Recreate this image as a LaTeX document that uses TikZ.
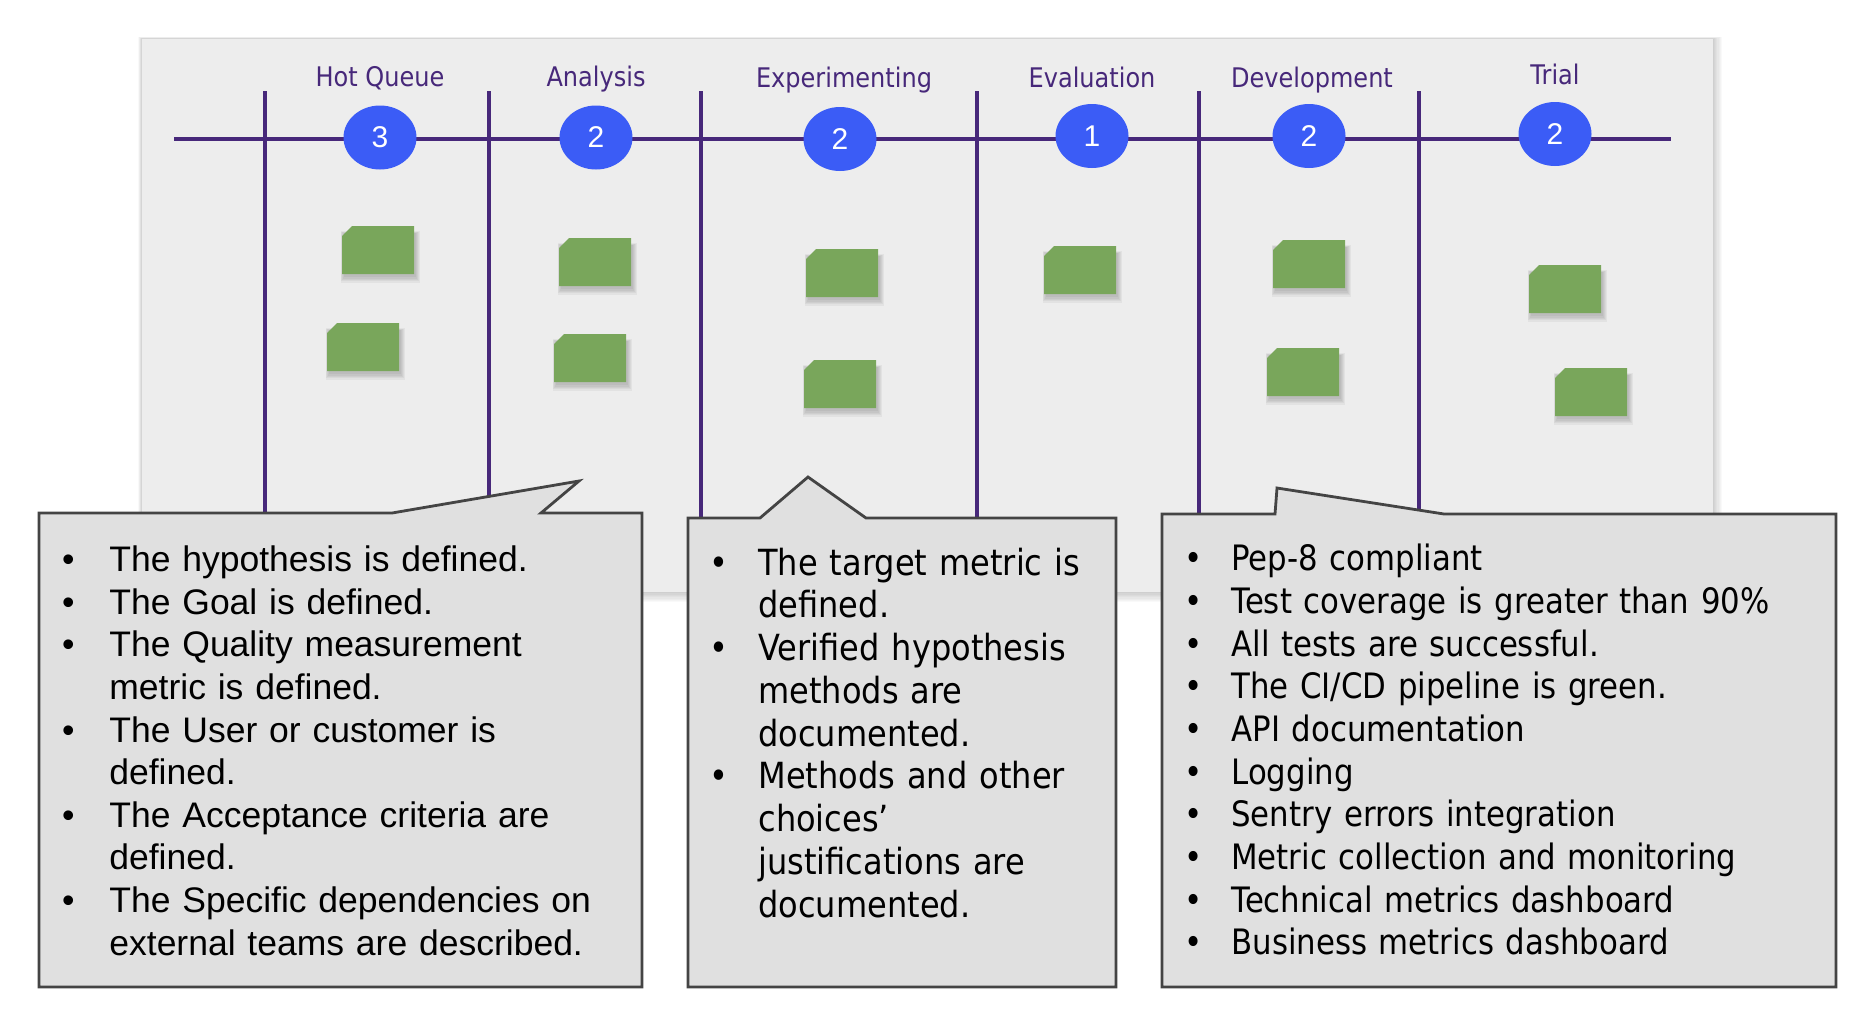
\documentclass[tikz,border=0pt]{standalone}
\usepackage{fontspec}
\setmainfont{Liberation Sans}
\newfontfamily\armfont{Liberation Sans}
\newfontfamily\tahfont[FakeStretch=0.89]{DejaVu Sans}
\newfontfamily\tahnarrow[FakeStretch=0.88]{DejaVu Sans}
\usetikzlibrary{shapes.geometric}

\definecolor{boardbg}{RGB}{237,237,237}
\definecolor{lanecol}{RGB}{71,40,122}
\definecolor{badgecol}{RGB}{59,92,246}
\definecolor{stickycol}{RGB}{121,166,91}
\definecolor{calloutbg}{RGB}{224,224,224}
\definecolor{calloutrule}{RGB}{68,68,68}

% bullet item: bullet centred #1 to the left of the text start
\newcommand\bulitem[2]{\par\noindent\llap{\makebox[0pt][c]{•}\hspace{#1}}#2}

% sticky note with a soft shadow, top-left corner at (#1,#2)
\newcommand\stickynote[2]{%
  \foreach \k in {1,...,5}{
    \fill[black,opacity=0.045]
      ({#1+3-(6-\k)*0.9},{#2+8-(6-\k)*0.6}) rectangle ({#1+73+(6-\k)*1.0},{#2+50+(6-\k)*1.3});
  }
  \fill[stickycol] ({#1+10},#2) -- ({#1+72},#2) -- ({#1+72},{#2+48}) -- (#1,{#2+48}) -- (#1,{#2+10}) -- cycle;
}

\begin{document}
\begin{tikzpicture}[x=0.5pt,y=-0.5pt,
  lane/.style={draw=lanecol,line width=2.3pt},
  badge/.style={shape=ellipse,fill=badgecol,text=white,inner sep=0pt,
    minimum width=36.5pt,minimum height=32pt,
    font=\fontsize{15}{17}\selectfont\armfont},
  heading/.style={text=lanecol,anchor=base,inner sep=0pt,
    font=\fontsize{13.5}{16}\selectfont\tahfont},
  callout/.style={fill=calloutbg,draw=calloutrule,line width=1.4pt,line join=miter},
  listA/.style={anchor=base west,inner sep=0pt,text width=290pt,align=left,
    font=\fontsize{17.75}{21.3}\selectfont\armfont},
  listB/.style={anchor=base west,inner sep=0pt,text width=190pt,align=left,
    font=\fontsize{18}{21.375}\selectfont\tahfont},
  listC/.style={anchor=base west,inner sep=0pt,text width=300pt,align=left,
    font=\fontsize{17.5}{21.33}\selectfont\tahnarrow}]

\useasboundingbox (0,0) rectangle (1856,1008);
\fill[white] (0,0) rectangle (1856,1008);

% board with soft shadow
\foreach \i in {1,...,8}{
  \fill[black,opacity=0.022] ({142-\i*0.5},{39-\i*0.3}) rectangle ({1713+\i*1.1},{592+\i*1.3});
}
\fill[boardbg] (142,39) rectangle (1713,592);

% swimlane rules
\coordinate (hl) at (174,139);
\coordinate (hr) at (1671,139);
\draw[lane] (hl) -- (hr);
\foreach \x [count=\n] in {265,489,701,977,1199,1419}{
  \coordinate (vt\n) at (\x,91);
  \coordinate (vb\n) at (\x,590);
  \draw[lane] (vt\n) -- (vb\n);
}

% column headings
\node[heading] (h1) at (380,86.7) {Hot Queue};
\node[heading] (h2) at (596,86.7) {Analysis};
\node[heading] (h3) at (844,87.7) {Experimenting};
\node[heading] (h4) at (1092,87.7) {Evaluation};
\node[heading] (h5) at (1312,87.7) {Development};
\node[heading] (h6) at (1555,84.3) {Trial};

% work-in-progress counters
\node[badge] (b1) at (380,137.5) {3};
\node[badge] (b2) at (596,137.5) {2};
\node[badge] (b3) at (840,139) {2};
\node[badge] (b4) at (1092,136) {1};
\node[badge] (b5) at (1309,136) {2};
\node[badge] (b6) at (1555,134) {2};

% cards
\stickynote{342}{226}
\stickynote{327}{323}
\stickynote{559}{238}
\stickynote{554}{334}
\stickynote{806}{249}
\stickynote{804}{360}
\stickynote{1044}{246}
\stickynote{1273}{240}
\stickynote{1267}{348}
\stickynote{1529}{265}
\stickynote{1555}{368}

% definition-of-done callouts
\draw[callout] (39,513) -- (392,513) -- (579,481) -- (541,513) -- (642,513)
  -- (642,987) -- (39,987) -- cycle;
\draw[callout] (688,518) -- (760,518) -- (808,477) -- (866,518) -- (1116,518)
  -- (1116,987) -- (688,987) -- cycle;
\draw[callout] (1162,514) -- (1275,514) -- (1277,488) -- (1444,514) -- (1836,514)
  -- (1836,987) -- (1162,987) -- cycle;

\node[listA] (t1) at (109,529.1) {%
  \bulitem{20.5pt}{The hypothesis is defined.}
  \bulitem{20.5pt}{The Goal is defined.}
  \bulitem{20.5pt}{The Quality measurement\\metric is defined.}
  \bulitem{20.5pt}{The User or customer is\\defined.}
  \bulitem{20.5pt}{The Acceptance criteria are\\defined.}
  \bulitem{20.5pt}{The Specific dependencies on\\external teams are described.}};

\node[listB] (t2) at (758,532.3) {%
  \bulitem{19.5pt}{The target metric is\\defined.}
  \bulitem{19.5pt}{Verified hypothesis\\methods are\\documented.}
  \bulitem{19.5pt}{Methods and other\\choices’\\justifications are\\documented.}};

\node[listC] (t3) at (1231,528.3) {%
  \bulitem{19pt}{Pep-8 compliant}
  \bulitem{19pt}{Test coverage is greater than 90\%}
  \bulitem{19pt}{All tests are successful.}
  \bulitem{19pt}{The CI/CD pipeline is green.}
  \bulitem{19pt}{API documentation}
  \bulitem{19pt}{Logging}
  \bulitem{19pt}{Sentry errors integration}
  \bulitem{19pt}{Metric collection and monitoring}
  \bulitem{19pt}{Technical metrics dashboard}
  \bulitem{19pt}{Business metrics dashboard}};

\end{tikzpicture}
\end{document}
